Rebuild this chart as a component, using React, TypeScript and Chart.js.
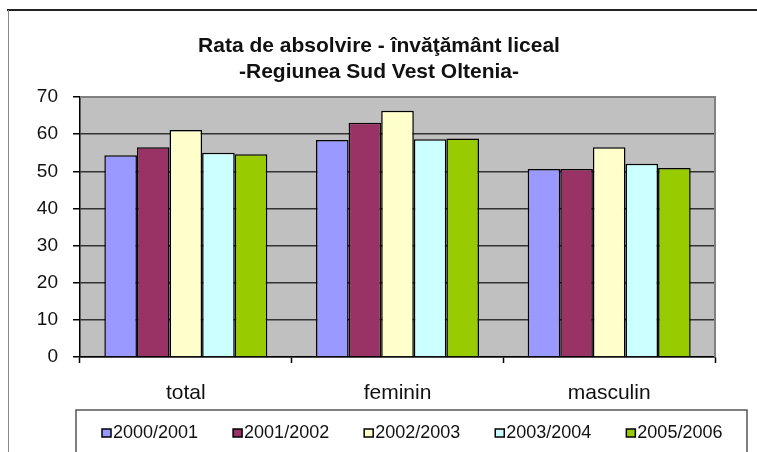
import React, { useEffect, useRef } from "react";
import { Chart, registerables } from "chart.js";

Chart.register(...registerables);

const categories = ["total", "feminin", "masculin"];
const seriesLabels = ["2000/2001", "2001/2002", "2002/2003", "2003/2004", "2005/2006"];
const values2000 = [54.3, 58.4, 50.6];
const values2001 = [56.5, 63.1, 50.6];
const values2002 = [61.1, 66.3, 56.5];
const values2003 = [55.0, 58.6, 52.0];
const values2005 = [54.6, 58.8, 50.9];
const seriesColors = ["#9999FF", "#993366", "#FFFFCC", "#CCFFFF", "#99CC00"];
const titleLines = ["Rata de absolvire - învăţământ liceal", "-Regiunea Sud Vest Oltenia-"];
const yMin = 0;
const yMax = 70;
const yStep = 10;

const FONT = '"Liberation Sans", Arial, sans-serif';

const decorPlugin = {
  id: "decor",
  beforeDraw(chart: any) {
    const { ctx, chartArea } = chart;
    ctx.save();
    ctx.fillStyle = "#ffffff";
    ctx.fillRect(0, 0, chart.width, chart.height);
    // outer frame
    ctx.strokeStyle = "#222";
    ctx.lineWidth = 2;
    ctx.beginPath();
    ctx.moveTo(7, 10);
    ctx.lineTo(chart.width, 10);
    ctx.stroke();
    ctx.strokeStyle = "#888";
    ctx.lineWidth = 1;
    ctx.beginPath();
    ctx.moveTo(8.5, 10);
    ctx.lineTo(8.5, chart.height);
    ctx.stroke();
    // plot background
    ctx.fillStyle = "#C0C0C0";
    ctx.fillRect(chartArea.left, chartArea.top, chartArea.right - chartArea.left, chartArea.bottom - chartArea.top);
    // title
    ctx.fillStyle = "#111";
    ctx.font = `bold 21px ${FONT}`;
    ctx.textAlign = "center";
    ctx.textBaseline = "middle";
    ctx.fillText(titleLines[0], 379, 46);
    ctx.fillText(titleLines[1], 379, 72);
    ctx.restore();
  },
  afterDatasetsDraw(chart: any) {
    const { ctx, chartArea } = chart;
    ctx.save();
    ctx.strokeStyle = "#808080";
    ctx.lineWidth = 2;
    ctx.beginPath();
    ctx.moveTo(chartArea.left, chartArea.top);
    ctx.lineTo(chartArea.right, chartArea.top);
    ctx.lineTo(chartArea.right, chartArea.bottom);
    ctx.stroke();
    ctx.restore();
  },
  afterDraw(chart: any) {
    const { ctx } = chart;
    ctx.save();
    // legend box
    ctx.strokeStyle = "#555";
    ctx.lineWidth = 1.5;
    ctx.strokeRect(76, 410, 747 - 76, 60);
    ctx.font = `18px ${FONT}`;
    ctx.textBaseline = "middle";
    ctx.textAlign = "left";
    let x = 102;
    const y = 433;
    chart.data.datasets.forEach((ds: any) => {
      ctx.fillStyle = ds.backgroundColor;
      ctx.fillRect(x, y - 4, 9, 8);
      ctx.strokeStyle = "#000";
      ctx.lineWidth = 1.5;
      ctx.strokeRect(x, y - 4, 9, 8);
      ctx.fillStyle = "#111";
      ctx.fillText(ds.label, x + 11, y);
      x += 11 + ctx.measureText(ds.label).width + 35;
    });
    ctx.restore();
  },
};

export default function App() {
  const ref = useRef<HTMLCanvasElement | null>(null);
  useEffect(() => {
    if (!ref.current) return;
    const seriesValues = [values2000, values2001, values2002, values2003, values2005];
    const chart = new Chart(ref.current, {
      type: "bar",
      data: {
        labels: categories,
        datasets: seriesLabels.map((label, i) => ({
          label,
          data: seriesValues[i],
          backgroundColor: seriesColors[i],
          borderColor: "#000",
          borderWidth: 1.5,
          categoryPercentage: 0.77,
          barPercentage: 1.0,
        })),
      },
      options: {
        responsive: false,
        animation: false,
        layout: { padding: { left: 0, top: 97, right: 42, bottom: 45 } },
        plugins: {
          legend: { display: false },
          title: { display: false },
          tooltip: { enabled: false },
        },
        scales: {
          x: {
            grid: {
              offset: true,
              drawOnChartArea: false,
              drawTicks: true,
              tickLength: 6,
              tickColor: "#000",
              tickWidth: 1.5,
            },
            border: { color: "#000", width: 1.5 },
            ticks: {
              color: "#111",
              font: { family: FONT, size: 21 },
              padding: 18,
            },
            afterFit: (scale: any) => {
              scale.height = 50;
            },
          },
          y: {
            min: yMin,
            max: yMax,
            grid: {
              color: "#333",
              lineWidth: 1.5,
              tickLength: 7,
              tickColor: "#000",
              tickWidth: 1.5,
            },
            border: { color: "#000", width: 1.5 },
            ticks: {
              stepSize: yStep,
              color: "#111",
              font: { family: FONT, size: 19 },
              padding: 15,
            },
            afterFit: (scale: any) => {
              scale.width = 80;
            },
          },
        },
      },
      plugins: [decorPlugin],
    });
    return () => chart.destroy();
  }, []);
  return (
    <div style={{ position: "absolute", left: 0, top: 0, width: 757, height: 452 }}>
      <canvas ref={ref} width={757} height={452} />
    </div>
  );
}
